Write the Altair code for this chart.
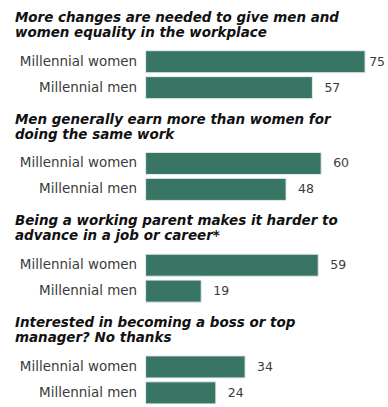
import altair as alt
import pandas as pd

titles = [
    ["More changes are needed to give men and", "women equality in the workplace"],
    ["Men generally earn more than women for", "doing the same work"],
    ["Being a working parent makes it harder to", "advance in a job or career*"],
    ["Interested in becoming a boss or top", "manager? No thanks"],
]
groups = ["Millennial women", "Millennial men"]
women = [75, 60, 59, 34]
men = [57, 48, 19, 24]

BAR = "#387565"
FONT = "DejaVu Sans"

panels = []
for i, t in enumerate(titles):
    df = pd.DataFrame({"group": groups, "value": [women[i], men[i]]})
    ych = alt.Y("group:N", sort=groups, title=None,
                scale=alt.Scale(paddingInner=0.15, paddingOuter=0.05),
                axis=alt.Axis(ticks=False, domain=False, labelPadding=9,
                              labelFont=FONT, labelFontSize=13.5, labelColor="#3a3a3a"))
    xsc = alt.Scale(domain=[0, 75], nice=False)
    bars = alt.Chart(df).mark_bar(color=BAR, stroke="#e3ece8", strokeWidth=1).encode(
        y=ych, x=alt.X("value:Q", title=None, axis=None, scale=xsc))
    text = alt.Chart(df).transform_calculate(
        pos="min(datum.value + 4.1, 76.4)"
    ).mark_text(align="left", font=FONT, fontSize=12.5, color="#3a3a3a").encode(
        y=ych, x=alt.X("pos:Q", title=None, axis=None, scale=xsc), text="value:Q")
    panel = (bars + text).properties(
        width=220, height=alt.Step(26),
        title=alt.TitleParams(t, anchor="start", font=FONT, fontSize=13.5, fontWeight="bold",
                              fontStyle="italic", color="#111111", lineHeight=15, offset=10,
                              frame="group", dx=-131),
    )
    panels.append(panel)

chart = alt.vconcat(*panels, spacing=12).configure(
    background="white",
    padding={"left": 15, "top": 10, "right": 2, "bottom": 0},
    view=alt.ViewConfig(stroke=None),
)

chart.save("out.html", embed_options={"renderer": "svg", "actions": False})
